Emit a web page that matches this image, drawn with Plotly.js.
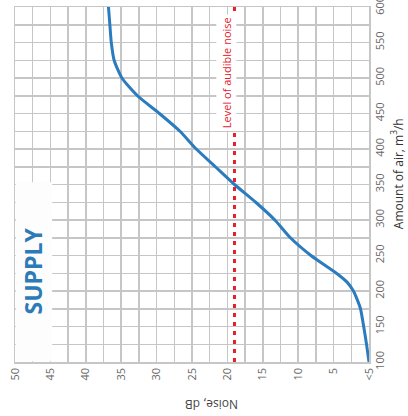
<!DOCTYPE html>
<html>
<head>
<meta charset="utf-8">
<script src="https://cdn.plot.ly/plotly-3.0.1.min.js"></script>
<style>
  html, body { margin: 0; padding: 0; background: #ffffff; }
  #chart { width: 408px; height: 416px; }
</style>
</head>
<body>
<div id="chart"></div>
<script>
// Amount of air (m³/h) sampled along the curve
const airflow = [100, 125, 150, 175, 187.5, 200, 212.5, 225, 250, 275, 300, 325, 350, 375, 400, 425, 450, 475, 500, 525, 550, 575, 600];
// Noise (dB) at each airflow
const noise   = [0, 0.35, 0.75, 1.2, 1.65, 2.2, 3.1, 4.6, 8.2, 11.1, 13.3, 16.0, 19.0, 21.7, 24.4, 26.7, 29.6, 32.7, 34.9, 36.0, 36.4, 36.6, 36.8];

// Level of audible noise (dB)
const audibleLevel = 19;

// Tick labels
const noiseTickVals = [50, 45, 40, 35, 30, 25, 20, 15, 10, 5, 0];
const noiseTickText = ['50', '45', '40', '35', '30', '25', '20', '15', '10', '5', '<5'];
const airTickVals = [100, 150, 200, 250, 300, 350, 400, 450, 500, 550, 600];
const airTickText = ['100', '150', '200', '250', '300', '350', '400', '450', '500', '550', '600'];

const gridCol = '#c6c6c6';
const font = 'Open Sans, Arial, sans-serif';

const traces = [{
  type: 'scatter',
  mode: 'lines',
  x: noise,
  y: airflow,
  line: { color: '#2b7bbf', width: 3, shape: 'spline', smoothing: 0.6 },
  hoverinfo: 'skip'
}];

const layout = {
  width: 408,
  height: 416,
  margin: { l: 14.5, r: 39, t: 7, b: 54 },
  paper_bgcolor: '#ffffff',
  plot_bgcolor: '#ffffff',
  showlegend: false,
  font: { family: font, color: '#666' },
  xaxis: {
    range: [50, 0],
    tickmode: 'array',
    tickvals: noiseTickVals,
    ticktext: noiseTickText,
    tickangle: -90,
    tickfont: { size: 11, color: '#666', family: font },
    ticklabeloverflow: 'allow',
    showgrid: true,
    gridcolor: gridCol,
    gridwidth: 1.5,
    minor: { dtick: 2.5, tick0: 0, showgrid: true, gridcolor: gridCol, gridwidth: 1.5 },
    showline: true,
    linecolor: gridCol,
    linewidth: 1.5,
    mirror: true,
    zeroline: false,
    ticks: '',
    fixedrange: true
  },
  yaxis: {
    range: [100, 600],
    side: 'right',
    tickmode: 'array',
    tickvals: airTickVals,
    ticktext: airTickText,
    tickangle: -90,
    tickfont: { size: 11, color: '#666', family: font },
    ticklabeloverflow: 'allow',
    showgrid: true,
    gridcolor: gridCol,
    gridwidth: 1.5,
    minor: { dtick: 25, tick0: 100, showgrid: true, gridcolor: gridCol, gridwidth: 1.5 },
    showline: true,
    linecolor: gridCol,
    linewidth: 1.5,
    mirror: true,
    zeroline: false,
    ticks: '',
    fixedrange: true
  },
  shapes: [
    // white panel behind the "SUPPLY" label
    {
      type: 'rect', xref: 'paper', yref: 'paper',
      x0: 0.002, x1: 0.105, y0: 0.002, y1: 0.506,
      fillcolor: '#fdfdfd', line: { width: 0 }, layer: 'above'
    },
    // level of audible noise
    {
      type: 'line', xref: 'x', yref: 'paper',
      x0: audibleLevel, x1: audibleLevel, y0: 0, y1: 1,
      line: { color: '#e5202b', width: 3, dash: '4px,5px' }, layer: 'above'
    }
  ],
  annotations: [
    {
      text: 'SUPPLY', xref: 'paper', yref: 'paper',
      x: 0.052, y: 0.256, textangle: -90, showarrow: false,
      xanchor: 'center', yanchor: 'middle',
      font: { family: font, size: 23, color: '#2d7bb6', weight: 700 }
    },
    {
      text: 'Level of audible noise', xref: 'x', yref: 'paper',
      x: audibleLevel, xshift: -8, y: 0.815, textangle: -90, showarrow: false,
      xanchor: 'center', yanchor: 'middle',
      bgcolor: '#ffffff', borderpad: 2,
      font: { family: font, size: 11, color: '#e5202b' }
    },
    {
      text: 'Noise, dB', xref: 'paper', yref: 'paper',
      x: 0.555, y: -0.118, textangle: 180, showarrow: false,
      xanchor: 'center', yanchor: 'middle',
      font: { family: font, size: 12, color: '#444' }
    },
    {
      text: 'Amount of air, m<sup>3</sup>/h', xref: 'paper', yref: 'paper',
      x: 1.08, y: 0.53, textangle: -90, showarrow: false,
      xanchor: 'center', yanchor: 'middle',
      font: { family: font, size: 12, color: '#333' }
    }
  ]
};

Plotly.newPlot('chart', traces, layout, { displayModeBar: false, staticPlot: true });
</script>
</body>
</html>
